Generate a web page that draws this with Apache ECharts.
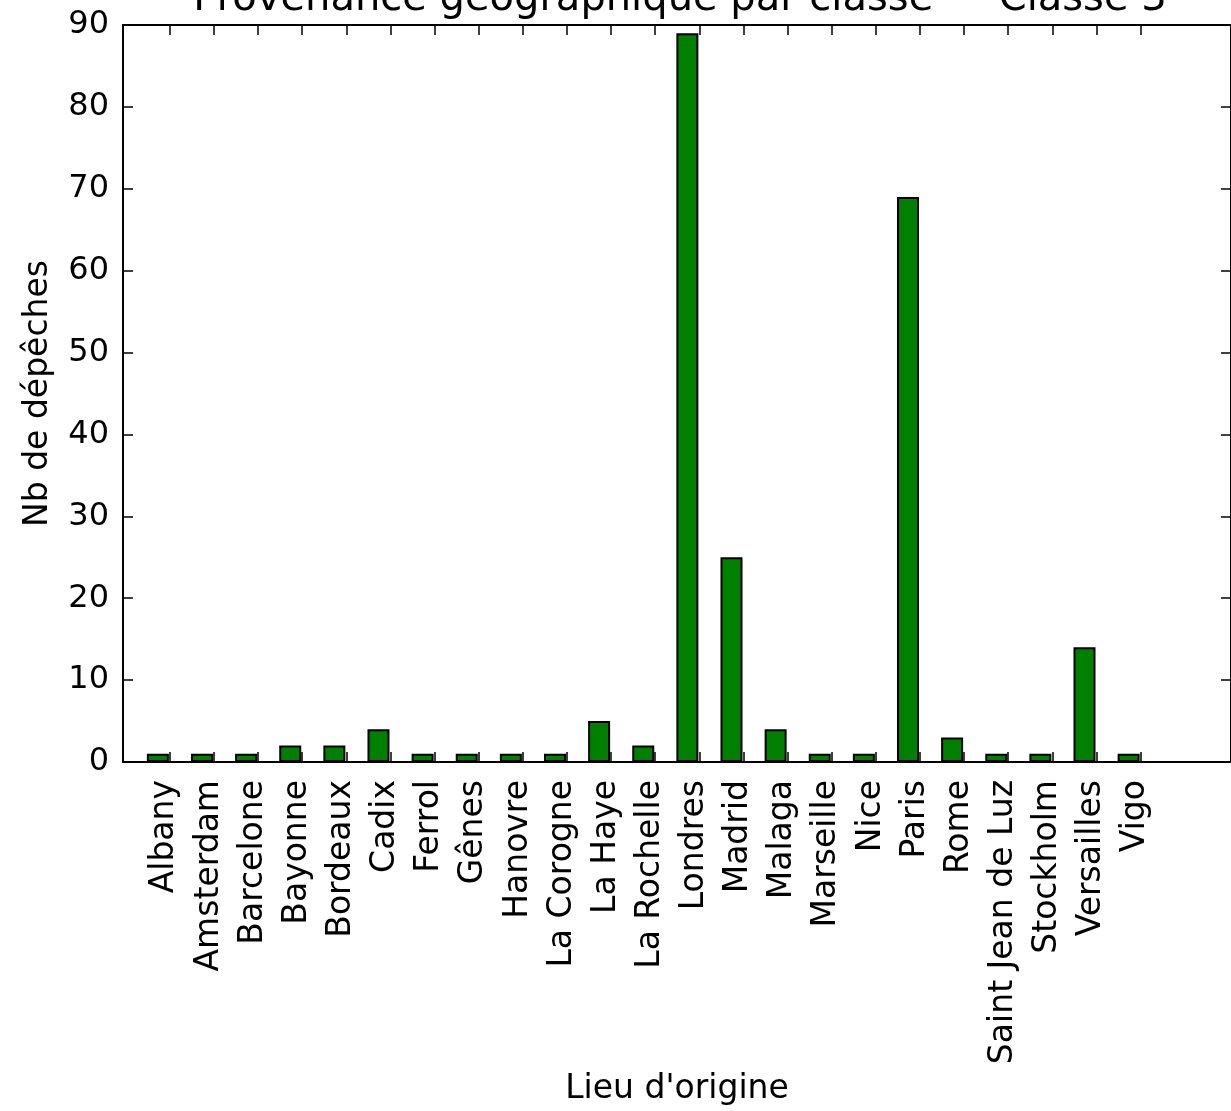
<!DOCTYPE html>
<html>
<head>
<meta charset="utf-8">
<script src="https://cdn.jsdelivr.net/npm/echarts@6/dist/echarts.min.js"></script>
<style>
html,body{margin:0;padding:0;background:#fff;}
#c{width:1231px;height:1111px;}
</style>
</head>
<body>
<div id="c"></div>
<script>
const titleText = "Provenance géographique par classe — Classe 3";
const xName = "Lieu d'origine";
const yName = "Nb de dépêches";
const cities = ["Albany","Amsterdam","Barcelone","Bayonne","Bordeaux","Cadix","Ferrol","Gênes","Hanovre","La Corogne","La Haye","La Rochelle","Londres","Madrid","Malaga","Marseille","Nice","Paris","Rome","Saint Jean de Luz","Stockholm","Versailles","Vigo"];
const counts = [1,1,1,2,2,4,1,1,1,1,5,2,89,25,4,1,1,69,3,1,1,14,1];
const yTicks = [0,10,20,30,40,50,60,70,80,90];

const idx = cities.map((_, i) => i);
const tickPos = idx.map(i => i + 0.27);
const labelPos = idx.map(i => i + 0.16);
const FONT = "DejaVu Sans";

const chart = echarts.init(document.getElementById('c'), null, {renderer: 'canvas'});
const xMin = -0.79, xMax = 24.32;
chart.setOption({
  animation: false,
  backgroundColor: '#fff',
  title: {
    text: titleText,
    left: 675, top: -25, textAlign: 'center',
    textStyle: {fontFamily: FONT, fontSize: 40, fontWeight: 'normal', color: '#000'}
  },
  grid: {left: 123, right: -6, top: 25, bottom: 348, containLabel: false},
  xAxis: [{
    type: 'value', position: 'bottom', min: xMin, max: xMax,
    name: xName, nameLocation: 'middle', nameGap: 311,
    nameTextStyle: {fontFamily: FONT, fontSize: 33, color: '#000'},
    splitLine: {show: false},
    axisLine: {show: true, onZero: false, lineStyle: {color: '#000', width: 2}},
    axisTick: {show: true, inside: true, length: 10, customValues: tickPos, lineStyle: {color: '#000', width: 1.5}},
    axisLabel: {
      show: true, rotate: 90, margin: 18, customValues: labelPos,
      fontFamily: FONT, fontSize: 33, color: '#000',
      formatter: v => cities[Math.round(v)] || ''
    }
  }, {
    type: 'value', position: 'top', min: xMin, max: xMax,
    splitLine: {show: false},
    axisLine: {show: true, onZero: false, lineStyle: {color: '#000', width: 2}},
    axisTick: {show: true, inside: true, length: 10, customValues: tickPos, lineStyle: {color: '#000', width: 1.5}},
    axisLabel: {show: false}
  }],
  yAxis: [{
    type: 'value', position: 'left', min: 0, max: 90, interval: 10,
    name: yName, nameLocation: 'middle', nameGap: 68, nameRotate: 90,
    nameTextStyle: {fontFamily: FONT, fontSize: 33, color: '#000'},
    splitLine: {show: false},
    axisLine: {show: true, onZero: false, lineStyle: {color: '#000', width: 2}},
    axisTick: {show: true, inside: true, length: 10, lineStyle: {color: '#000', width: 1.5}},
    axisLabel: {show: true, margin: 14, fontFamily: FONT, fontSize: 32, color: '#000',
      customValues: yTicks}
  }, {
    type: 'value', position: 'right', min: 0, max: 90, interval: 10,
    splitLine: {show: false},
    axisLine: {show: true, onZero: false, lineStyle: {color: '#000', width: 2}},
    axisTick: {show: true, inside: true, length: 10, lineStyle: {color: '#000', width: 1.5}},
    axisLabel: {show: false}
  }],
  series: [{
    type: 'bar',
    xAxisIndex: 0, yAxisIndex: 0,
    barWidth: 22,
    data: counts.map((v, i) => [idx[i], v]),
    itemStyle: {color: '#008000', borderColor: '#000', borderWidth: 2}
  }]
});
</script>
</body>
</html>
